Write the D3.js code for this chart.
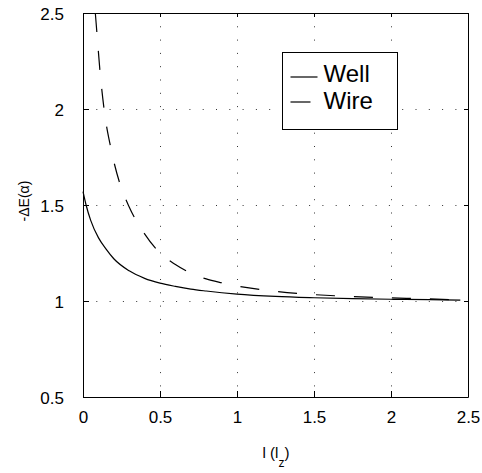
<!DOCTYPE html>
<meta charset="utf-8">
<head>
  <title>Well vs Wire</title>
  <script src="https://d3js.org/d3.v7.min.js"></script>
  <style>
    body { margin: 0; background: #ffffff; }
    text { font-family: "Liberation Sans", Arial, sans-serif; fill: #000; }
  </style>
</head>
<body>
<svg width="482" height="473"></svg>
<script>
// values
var xTicks = [0, 0.5, 1, 1.5, 2, 2.5];
var yTicks = [0.5, 1, 1.5, 2, 2.5];

var wellL = [0, 0.02, 0.05, 0.1, 0.15, 0.2, 0.3, 0.4, 0.5, 0.6, 0.7, 0.8, 1.0, 1.25, 1.5, 1.75, 2.0, 2.25, 2.45];
var wellE = [1.57, 1.50, 1.42, 1.33, 1.27, 1.22, 1.157, 1.118, 1.093, 1.076, 1.062, 1.052, 1.036, 1.024, 1.017, 1.012, 1.009, 1.007, 1.005];

var wireL = [0.08, 0.09, 0.11, 0.14, 0.18, 0.24, 0.3, 0.4, 0.5, 0.6, 0.7, 0.8, 0.9, 1.0, 1.2, 1.4, 1.7, 2.0, 2.2, 2.45];
var wireE = [2.50, 2.40, 2.20, 1.98, 1.80, 1.61, 1.49, 1.35, 1.25, 1.19, 1.145, 1.115, 1.095, 1.078, 1.055, 1.039, 1.025, 1.016, 1.012, 1.005];

var seriesNames = ["Well", "Wire"];

var svg = d3.select("svg"),
    margin = {top: 13, right: 14, bottom: 76, left: 83},
    width = +svg.attr("width") - margin.left - margin.right,
    height = +svg.attr("height") - margin.top - margin.bottom,
    g = svg.append("g").attr("transform", "translate(" + margin.left + "," + margin.top + ")");

var x = d3.scaleLinear().domain([0, 2.5]).range([0, width]);
var y = d3.scaleLinear().domain([0.5, 2.5]).range([height, 0]);

// dotted grid
g.append("g").selectAll("line")
  .data(xTicks.slice(1, -1))
  .enter().append("line")
  .attr("x1", function(d) { return Math.round(x(d)) + 0.5; })
  .attr("x2", function(d) { return Math.round(x(d)) + 0.5; })
  .attr("y1", 0).attr("y2", height)
  .attr("stroke", "#333").attr("stroke-width", 1)
  .attr("stroke-dasharray", "1,12.3");

g.append("g").selectAll("line")
  .data(yTicks.slice(1, -1))
  .enter().append("line")
  .attr("y1", function(d) { return Math.round(y(d)) + 0.5; })
  .attr("y2", function(d) { return Math.round(y(d)) + 0.5; })
  .attr("x1", 0).attr("x2", width)
  .attr("stroke", "#333").attr("stroke-width", 1)
  .attr("stroke-dasharray", "1,12.3");

// axes, ticks pointing inward
var fmt = function(d) { return d3.format("")(d); };

var xAxis = g.append("g")
  .attr("transform", "translate(0," + height + ")")
  .call(d3.axisBottom(x).tickValues(xTicks).tickSizeInner(-6).tickSizeOuter(0).tickPadding(14).tickFormat(fmt));
var yAxis = g.append("g")
  .call(d3.axisLeft(y).tickValues(yTicks).tickSizeInner(-6).tickSizeOuter(0).tickPadding(19).tickFormat(fmt));
g.append("g")
  .call(d3.axisTop(x).tickValues(xTicks).tickSizeInner(-4).tickSizeOuter(0).tickFormat(""));
g.append("g")
  .attr("transform", "translate(" + width + ",0)")
  .call(d3.axisRight(y).tickValues(yTicks).tickSizeInner(-4).tickSizeOuter(0).tickFormat(""));

g.selectAll(".domain").attr("stroke", "#000");
g.selectAll(".tick line").attr("stroke", "#000");
xAxis.selectAll("text").style("font-size", "17px").attr("dy", "0.71em");
yAxis.selectAll("text").style("font-size", "17px").attr("dy", "0.36em");

// curves
var line = d3.line()
  .x(function(d) { return x(d[0]); })
  .y(function(d) { return y(d[1]); })
  .curve(d3.curveMonotoneX);

var wellData = wellL.map(function(l, i) { return [l, wellE[i]]; });
var wireData = wireL.map(function(l, i) { return [l, wireE[i]]; });

g.append("path")
  .datum(wellData)
  .attr("fill", "none")
  .attr("stroke", "#000")
  .attr("stroke-width", 1.2)
  .attr("d", line);

g.append("path")
  .datum(wireData)
  .attr("fill", "none")
  .attr("stroke", "#000")
  .attr("stroke-width", 1.2)
  .attr("stroke-dasharray", "19,19")
  .attr("d", line);

// legend
var legend = svg.append("g").attr("transform", "translate(282.5,52.5)");
legend.append("rect")
  .attr("width", 115).attr("height", 77)
  .attr("fill", "#fff").attr("stroke", "#000").attr("stroke-width", 1);

var legendItems = legend.selectAll("g.item")
  .data(seriesNames)
  .enter().append("g")
  .attr("class", "item")
  .attr("transform", function(d, i) { return "translate(0," + (24.5 + i * 25) + ")"; });

legendItems.append("line")
  .attr("x1", 8)
  .attr("x2", function(d, i) { return i == 0 ? 35 : 28; })
  .attr("y1", 0).attr("y2", 0)
  .attr("stroke", "#000").attr("stroke-width", 1.2);

legendItems.append("text")
  .attr("x", 41)
  .attr("y", function(d, i) { return 5 + i * 2; })
  .style("font-size", "24px")
  .text(function(d) { return d; });

// axis labels
svg.append("text")
  .attr("transform", "translate(29,201) rotate(-90)")
  .attr("text-anchor", "middle")
  .style("font-size", "14px")
  .text("-\u0394E(\u03b1)");

var xl = svg.append("text")
  .attr("x", 276)
  .attr("y", 458)
  .attr("text-anchor", "middle")
  .style("font-size", "15px");
xl.append("tspan").text("l (l");
xl.append("tspan").attr("dy", 9).style("font-size", "12px").text("z");
xl.append("tspan").attr("dy", -9).text(")");
</script>
</body>
